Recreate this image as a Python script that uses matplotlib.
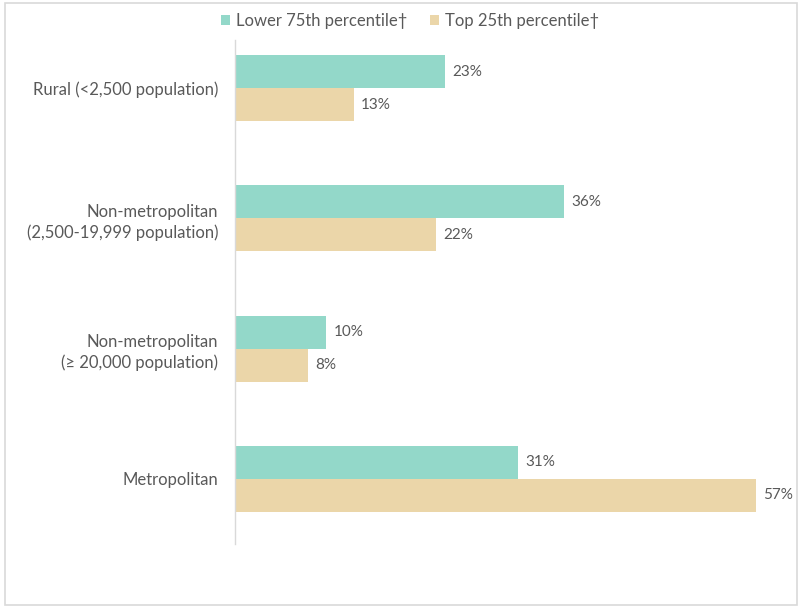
import matplotlib.pyplot as plt
import numpy as np
from matplotlib.patches import Rectangle

categories = ["Rural (<2,500 population)",
              "Non-metropolitan\n(2,500-19,999 population)",
              "Non-metropolitan\n(\u2265 20,000 population)",
              "Metropolitan"]
lower75 = [23, 36, 10, 31]
top25 = [13, 22, 8, 57]
series_names = ["Lower 75th percentile\u2020", "Top 25th percentile\u2020"]
colors = ["#93D8C9", "#EBD6A9"]
text_color = "#595959"

plt.rcParams['font.family'] = ['Lato', 'DejaVu Sans']

fig = plt.figure(figsize=(8.01, 6.08), dpi=100)
W, H = 801, 608
ax = fig.add_axes([235 / W, 1 - 544 / H, 548 / W, 504 / H])

y = np.arange(len(categories))
h = 0.254
b1 = ax.barh(y - h / 2, lower75, height=h, color=colors[0], label=series_names[0])
b2 = ax.barh(y + h / 2, top25, height=h, color=colors[1], label=series_names[1])

for bars, vals in [(b1, lower75), (b2, top25)]:
  for bar, v in zip(bars, vals):
    ax.text(v + 0.8, bar.get_y() + bar.get_height() / 2, str(v) + "%",
            va='center', ha='left', fontsize=11, color=text_color)

ax.set_xlim(0, 60)
ax.set_ylim(3.5, -0.37)
ax.set_yticks(y)
ax.set_yticklabels(categories, fontsize=12, color=text_color, ha='right',
                   multialignment='right', linespacing=1.35)
ax.tick_params(axis='y', length=0, pad=12)
ax.set_xticks([])
for s in ['top', 'right', 'bottom']:
  ax.spines[s].set_visible(False)
ax.spines['left'].set_color('#D9D9D9')
ax.spines['left'].set_linewidth(1)

leg = fig.legend(loc='center', bbox_to_anchor=(410 / W, 1 - 21 / H), ncol=2, frameon=False,
                 fontsize=12, handlelength=0.55, handleheight=0.55, handletextpad=0.35,
                 columnspacing=1.4, labelcolor=text_color)

fig.patches.append(Rectangle((5 / W, 3 / H), 792 / W, 602 / H, transform=fig.transFigure,
                             fill=False, edgecolor='#D9D9D9', linewidth=1.2))

fig.savefig("out.png", dpi=100)
